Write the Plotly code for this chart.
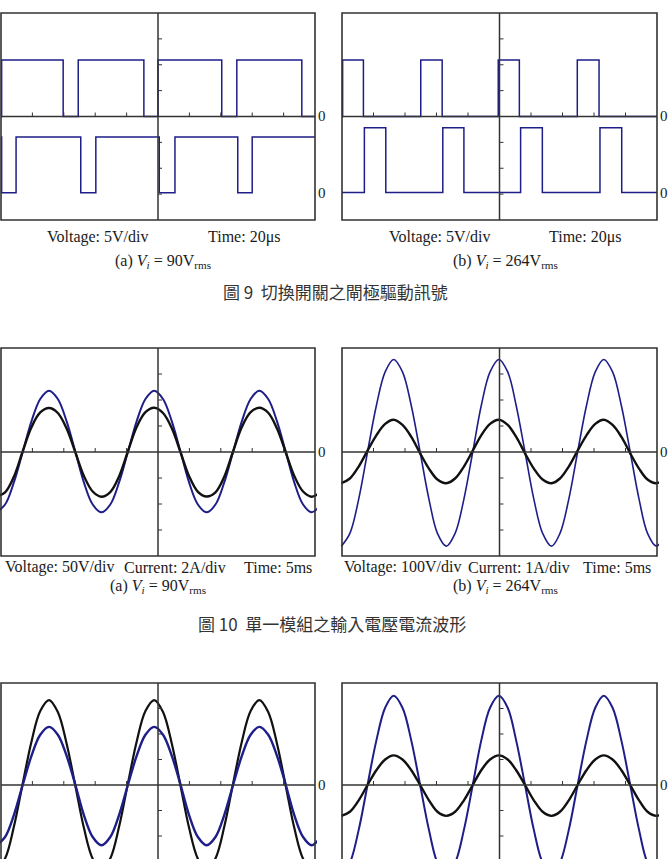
import plotly.graph_objects as go

W, H = 669, 859

# ---------------- Fig. 9 : gate-drive signals (x: div of 20 us, y: div of 5 V) ----------------
# each square trace = [low level, high level], starting state (0 low / 1 high), toggle instants
f9a_top_levels = [0.0, 2.18]
f9a_top_start = 0
f9a_top_edges = [0.02, 1.98, 2.46, 4.55, 5.00, 7.03, 7.51, 9.58]
f9a_bot_levels = [-2.95, -0.79]
f9a_bot_start = 1
f9a_bot_edges = [0.02, 0.48, 2.54, 3.02, 5.04, 5.54, 7.54, 8.00]

f9b_top_levels = [0.0, 2.18]
f9b_top_start = 0
f9b_top_edges = [0.02, 0.68, 2.50, 3.18, 4.96, 5.63, 7.47, 8.16]
f9b_bot_levels = [-2.94, -0.43]
f9b_bot_start = 0
f9b_bot_edges = [0.71, 1.39, 3.20, 3.87, 5.67, 6.36, 8.19, 8.88]

# ---------------- Fig. 10 / Fig. 11 : sinusoidal waveforms (x: div of 5 ms, y: div) ----------------
t_90 = [-0.15, 0.13, 0.41, 0.69, 0.97, 1.25, 1.53, 1.81, 2.09, 2.37, 2.64, 2.92,
        3.20, 3.48, 3.76, 4.04, 4.32, 4.60, 4.88, 5.16, 5.44, 5.72, 5.99, 6.27,
        6.55, 6.83, 7.11, 7.39, 7.67, 7.95, 8.23, 8.51, 8.79, 9.07, 9.34, 9.62,
        9.90, 10.18]
t_264 = [-0.02, 0.25, 0.53, 0.81, 1.09, 1.37, 1.64, 1.92, 2.20, 2.48, 2.76, 3.03,
         3.31, 3.59, 3.87, 4.15, 4.42, 4.70, 4.98, 5.26, 5.53, 5.81, 6.09, 6.37,
         6.65, 6.92, 7.20, 7.48, 7.76, 8.04, 8.31, 8.59, 8.87, 9.15, 9.43, 9.70,
         9.98, 10.26]

f10a_voltage = [-2.32, -2.02, -1.17, 0.00, 1.18, 2.04, 2.36, 2.04, 1.18, 0.00, -1.17, -2.02,
                -2.32, -2.02, -1.17, 0.00, 1.18, 2.04, 2.36, 2.04, 1.18, 0.00, -1.17, -2.02,
                -2.32, -2.02, -1.17, 0.00, 1.18, 2.04, 2.36, 2.04, 1.18, 0.00, -1.17, -2.02,
                -2.32, -2.02]
f10a_current = [-1.71, -1.55, -0.95, 0.02, 0.95, 1.52, 1.69, 1.50, 0.90, -0.02, -0.92, -1.52,
                -1.72, -1.54, -0.94, 0.02, 0.96, 1.53, 1.70, 1.50, 0.91, -0.02, -0.93, -1.53,
                -1.71, -1.55, -0.95, 0.02, 0.96, 1.53, 1.70, 1.51, 0.90, -0.02, -0.92, -1.52,
                -1.72, -1.54]
f10b_voltage = [-3.62, -3.13, -1.81, 0.00, 1.78, 3.08, 3.56, 3.08, 1.78, 0.00, -1.81, -3.13,
                -3.62, -3.13, -1.81, 0.00, 1.78, 3.08, 3.56, 3.08, 1.78, 0.00, -1.81, -3.13,
                -3.62, -3.13, -1.81, 0.00, 1.78, 3.08, 3.56, 3.08, 1.78, 0.00, -1.81, -3.13,
                -3.62, -3.13]
f10b_current = [-1.20, -1.02, -0.56, 0.05, 0.64, 1.08, 1.24, 1.04, 0.58, -0.05, -0.64, -1.06,
                -1.20, -1.02, -0.56, 0.05, 0.64, 1.08, 1.24, 1.04, 0.58, -0.05, -0.64, -1.06,
                -1.20, -1.02, -0.56, 0.05, 0.64, 1.08, 1.24, 1.04, 0.58, -0.05, -0.64, -1.06,
                -1.20, -1.02]

f11a_black = [-3.33, -2.88, -1.64, 0.05, 1.70, 2.90, 3.33, 2.86, 1.62, -0.05, -1.68, -2.89,
              -3.33, -2.88, -1.64, 0.05, 1.70, 2.90, 3.33, 2.86, 1.62, -0.05, -1.68, -2.89,
              -3.33, -2.88, -1.64, 0.05, 1.70, 2.90, 3.33, 2.86, 1.62, -0.05, -1.68, -2.89,
              -3.33, -2.88]
f11a_blue = [-2.36, -2.04, -1.18, 0.00, 1.14, 1.97, 2.28, 1.97, 1.14, 0.00, -1.18, -2.04,
             -2.36, -2.04, -1.18, 0.00, 1.14, 1.97, 2.28, 1.97, 1.14, 0.00, -1.18, -2.04,
             -2.36, -2.04, -1.18, 0.00, 1.14, 1.97, 2.28, 1.97, 1.14, 0.00, -1.18, -2.04,
             -2.36, -2.04]
f11b_black = [-1.21, -1.05, -0.60, 0.00, 0.58, 1.00, 1.16, 1.00, 0.58, 0.00, -0.60, -1.05,
              -1.21, -1.05, -0.60, 0.00, 0.58, 1.00, 1.16, 1.00, 0.58, 0.00, -0.60, -1.05,
              -1.21, -1.05, -0.60, 0.00, 0.58, 1.00, 1.16, 1.00, 0.58, 0.00, -0.60, -1.05,
              -1.21, -1.05]
f11b_blue = [-3.52, -3.05, -1.76, 0.00, 1.74, 3.03, 3.50, 3.03, 1.74, 0.00, -1.76, -3.05,
             -3.52, -3.05, -1.76, 0.00, 1.74, 3.03, 3.50, 3.03, 1.74, 0.00, -1.76, -3.05,
             -3.52, -3.05, -1.76, 0.00, 1.74, 3.03, 3.50, 3.03, 1.74, 0.00, -1.76, -3.05,
             -3.52, -3.05]

# ---------------- text ----------------
volt_9 = "Voltage: 5V/div"
time_9 = "Time: 20\u03bcs"
sub_a_9 = "(a) <i>V<sub>i</sub></i> = 90V<sub>rms</sub>"
sub_b_9 = "(b) <i>V<sub>i</sub></i> = 264V<sub>rms</sub>"
cap_9 = "圖 9  切換開關之閘極驅動訊號"
volt_10a, cur_10a = "Voltage: 50V/div", "Current: 2A/div"
volt_10b, cur_10b = "Voltage: 100V/div", "Current: 1A/div"
time_10 = "Time: 5ms"
cap_10 = "圖 10  單一模組之輸入電壓電流波形"
zero_lbl = "0"

# ---------------- styling / layout ----------------
BLUE = "#1e1e88"
BLACK = "#111111"
FRAME = "#333333"
SERIF = "Liberation Serif"
CJK = "Noto Sans CJK TC"

# pixel frames of the six screens (left, top, right, bottom)
boxes = [
    (1, 13, 315, 220), (342, 13, 657, 220),
    (1, 348, 315, 556), (342, 348, 657, 556),
    (1, 683, 315, 887), (342, 683, 657, 887),
]

fig = go.Figure()
layout = dict(width=W, height=H, margin=dict(l=0, r=0, t=0, b=0),
              paper_bgcolor="white", plot_bgcolor="white", showlegend=False)
shapes = []
PAD = 2

for i, (l, t, r, b) in enumerate(boxes, start=1):
    ppx = (r - l) / 10.0
    ppy = (b - t) / 8.0
    dl, dr = max(l - PAD, 0), min(r + PAD, W)
    dt, db = max(t - PAD, 0), min(b + PAD, H)
    xr = [(dl - l) / ppx, (dr - l) / ppx]
    yr = [4 - (db - t) / ppy, 4 - (dt - t) / ppy]
    sfx = "" if i == 1 else str(i)
    layout["xaxis" + sfx] = dict(domain=[dl / W, dr / W], range=xr, visible=False,
                                 fixedrange=True, anchor="y" + sfx)
    layout["yaxis" + sfx] = dict(domain=[1 - db / H, 1 - dt / H], range=yr, visible=False,
                                 fixedrange=True, anchor="x" + sfx)
    xref, yref = "x" + sfx, "y" + sfx
    shapes.append(dict(type="rect", xref=xref, yref=yref, x0=0, x1=10, y0=-4, y1=4,
                       line=dict(color=FRAME, width=1.6), layer="above"))
    shapes.append(dict(type="line", xref=xref, yref=yref, x0=5, x1=5, y0=-4, y1=4,
                       line=dict(color=FRAME, width=1.5), layer="above"))
    shapes.append(dict(type="line", xref=xref, yref=yref, x0=0, x1=10, y0=0, y1=0,
                       line=dict(color=FRAME, width=1.5), layer="above"))
    tky = 4.0 / ppy
    tkx = 4.0 / ppx
    for k in range(1, 10):
        if k == 5:
            continue
        shapes.append(dict(type="line", xref=xref, yref=yref, x0=k, x1=k, y0=0, y1=tky,
                           line=dict(color=FRAME, width=1), layer="above"))
    for k in range(-3, 4):
        if k == 0:
            continue
        shapes.append(dict(type="line", xref=xref, yref=yref, x0=5, x1=5 + tkx, y0=k, y1=k,
                           line=dict(color=FRAME, width=1), layer="above"))


def square(levels, start, edges):
    xs = [0.0] + list(edges) + [10.0]
    ys = [levels[start]]
    s = start
    for _ in edges:
        s = 1 - s
        ys.append(levels[s])
    ys.append(ys[-1])
    return xs, ys


def add(i, xs, ys, color, width, shape):
    sfx = "" if i == 1 else str(i)
    fig.add_trace(go.Scatter(x=xs, y=ys, mode="lines", xaxis="x" + sfx, yaxis="y" + sfx,
                             line=dict(color=color, width=width, shape=shape),
                             hoverinfo="skip"))


for (lv, st, ed) in [(f9a_top_levels, f9a_top_start, f9a_top_edges),
                     (f9a_bot_levels, f9a_bot_start, f9a_bot_edges)]:
    xs, ys = square(lv, st, ed)
    add(1, xs, ys, BLUE, 1.5, "hv")
for (lv, st, ed) in [(f9b_top_levels, f9b_top_start, f9b_top_edges),
                     (f9b_bot_levels, f9b_bot_start, f9b_bot_edges)]:
    xs, ys = square(lv, st, ed)
    add(2, xs, ys, BLUE, 1.5, "hv")

add(3, t_90, f10a_voltage, BLUE, 2.0, "spline")
add(3, t_90, f10a_current, BLACK, 2.4, "spline")
add(4, t_264, f10b_voltage, BLUE, 1.6, "spline")
add(4, t_264, f10b_current, BLACK, 2.4, "spline")
add(5, t_90, f11a_black, BLACK, 2.2, "spline")
add(5, t_90, f11a_blue, BLUE, 2.4, "spline")
add(6, t_264, f11b_blue, BLUE, 2.0, "spline")
add(6, t_264, f11b_black, BLACK, 2.4, "spline")

ann = []


def txt(s, px, py, size=16, family=SERIF, color="#1a1a1a"):
    ann.append(dict(text=s, x=px / W, y=1 - py / H, xref="paper", yref="paper",
                    xanchor="center", yanchor="middle", showarrow=False,
                    font=dict(family=family, size=size, color=color)))


# Fig. 9 labels
txt(volt_9, 97, 237); txt(time_9, 244, 237); txt(sub_a_9, 163, 261)
txt(volt_9, 439, 237); txt(time_9, 585, 237); txt(sub_b_9, 505, 261)
txt(cap_9, 335, 291, size=17, family=CJK, color="#333333")
# Fig. 10 labels
txt(volt_10a, 59, 567); txt(cur_10a, 175, 567); txt(time_10, 278, 567); txt(sub_a_9, 158, 586)
txt(volt_10b, 402, 567); txt(cur_10b, 519, 567); txt(time_10, 617, 567); txt(sub_b_9, 505, 586)
txt(cap_10, 332, 623, size=17, family=CJK, color="#333333")
# zero markers
for (px, py) in [(322, 116), (322, 193), (664, 116), (664, 193),
                 (322, 452), (664, 452), (322, 785), (664, 785)]:
    txt(zero_lbl, px, py, size=15)

layout["shapes"] = shapes
layout["annotations"] = ann
fig.update_layout(**layout)
fig.write_html("out.html")
